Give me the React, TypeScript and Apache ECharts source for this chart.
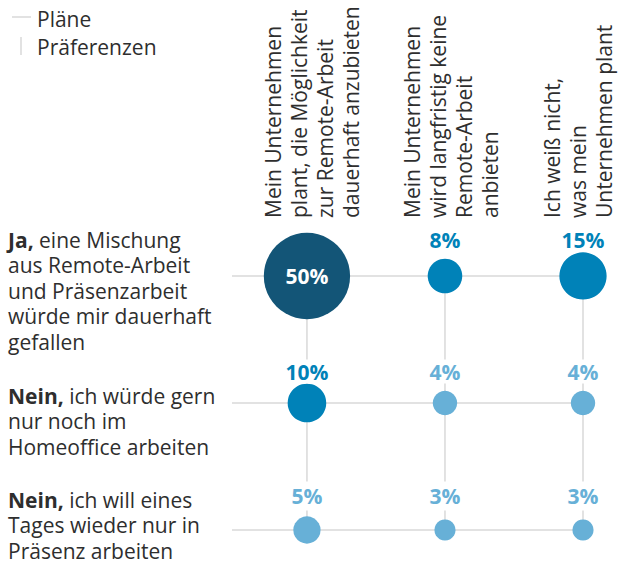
import React, { useEffect, useRef } from 'react';
import * as echarts from 'echarts';

// ---- data ----
const planLabels = [
  'Mein Unternehmen\nplant, die Möglichkeit\nzur Remote-Arbeit\ndauerhaft anzubieten',
  'Mein Unternehmen\nwird langfristig keine\nRemote-Arbeit\nanbieten',
  'Ich weiß nicht,\nwas mein\nUnternehmen plant',
];
const prefBold = ['Ja,', 'Nein,', 'Nein,'];
const prefRest = [
  ' eine Mischung\naus Remote-Arbeit\nund Präsenzarbeit\nwürde mir dauerhaft\ngefallen',
  ' ich würde gern\nnur noch im\nHomeoffice arbeiten',
  ' ich will eines\nTages wieder nur in\nPräsenz arbeiten',
];
const shares = [
  [50, 8, 15],
  [10, 4, 4],
  [5, 3, 3],
];
const legendNames = ['Pläne', 'Präferenzen'];

// ---- styles / layout ----
const FONT = '"Open Sans", "Noto Sans", sans-serif';
const TEXT = '#2e2e2e';
const LINE = '#d9d9d9';
const DARK = '#135577';
const MID = '#0082b8';
const LIGHT = '#67b0d7';
const headerLeft = [260, 399, 539];
const rowLabelTop = [227, 383, 487];
const labelLift = [36, 30, 30];
const labelPadTop = [0, 3, 8];

function colorFor(v: number) {
  if (v >= 30) return DARK;
  if (v >= 8) return MID;
  return LIGHT;
}

export default function App() {
  const ref = useRef<HTMLDivElement>(null);
  useEffect(() => {
    if (!ref.current) return;
    const chart = echarts.init(ref.current, undefined, { renderer: 'svg' });

    const data: any[] = [];
    shares.forEach((row, r) => {
      row.forEach((v, c) => {
        const inside = v >= 30;
        const pt = labelPadTop[r];
        data.push({
          value: [c, r, v],
          itemStyle: { color: colorFor(v), opacity: 1 },
          label: inside
            ? { position: 'inside', color: '#fff', offset: [0, 0] }
            : {
                position: 'inside',
                color: colorFor(v),
                backgroundColor: pt > 0 ? '#fff' : 'transparent',
                padding: [pt, 4, 0, 4],
                offset: [0, -labelLift[r] - pt / 2],
              },
        });
      });
    });

    const vLines = planLabels.map((_, c) => ({
      type: 'line',
      data: [
        [c, 0],
        [c, shares.length - 1],
      ],
      symbol: 'none',
      silent: true,
      lineStyle: { color: LINE, width: 1.5 },
      z: 1,
    }));

    const graphics: any[] = [
      { type: 'line', shape: { x1: 12, y1: 17, x2: 31, y2: 17 }, style: { stroke: LINE, lineWidth: 1.5 } },
      { type: 'line', shape: { x1: 21, y1: 37, x2: 21, y2: 55 }, style: { stroke: LINE, lineWidth: 1.5 } },
      {
        type: 'text', x: 37, y: 19,
        style: { text: legendNames[0], fontSize: 21, fontFamily: FONT, fill: TEXT, align: 'left', verticalAlign: 'middle', textAlign: 'left', textVerticalAlign: 'middle' },
      },
      {
        type: 'text', x: 37, y: 47,
        style: { text: legendNames[1], fontSize: 21, fontFamily: FONT, fill: TEXT, align: 'left', verticalAlign: 'middle', textAlign: 'left', textVerticalAlign: 'middle' },
      },
    ];
    planLabels.forEach((t, c) => {
      graphics.push({
        type: 'text',
        x: headerLeft[c],
        y: 218,
        rotation: Math.PI / 2,
        style: {
          text: t, fontSize: 21, fontFamily: FONT, fill: TEXT, lineHeight: 26,
          align: 'left', verticalAlign: 'top', textAlign: 'left', textVerticalAlign: 'top',
        },
      });
    });
    prefBold.forEach((b, r) => {
      graphics.push({
        type: 'text',
        x: 8,
        y: rowLabelTop[r],
        style: {
          text: '{b|' + b + '}' + prefRest[r],
          fontSize: 21, fontFamily: FONT, fill: TEXT, lineHeight: 25.5,
          align: 'left', verticalAlign: 'top', textAlign: 'left', textVerticalAlign: 'top',
          rich: {
            b: { fontSize: 21, fontFamily: FONT, fontWeight: 'bold', fill: TEXT, lineHeight: 25.5 },
          },
        },
      });
    });

    chart.setOption({
      animation: false,
      backgroundColor: '#fff',
      grid: { left: 232, right: 35, top: 276, bottom: 34 },
      xAxis: {
        type: 'value', min: -0.543, max: planLabels.length - 1,
        show: false, splitLine: { show: false },
      },
      yAxis: {
        type: 'value', inverse: true, min: 0, max: shares.length - 1, interval: 1,
        axisLine: { show: false }, axisTick: { show: false }, axisLabel: { show: false },
        splitLine: { show: true, lineStyle: { color: LINE, width: 1.5 } },
      },
      graphic: graphics,
      series: [
        ...vLines,
        {
          type: 'scatter',
          z: 2,
          data,
          itemStyle: { opacity: 1 },
          emphasis: { disabled: true },
          symbolSize: (val: number[]) => 12.2 * Math.sqrt(val[2]),
          label: {
            show: true,
            fontFamily: FONT,
            fontSize: 21,
            fontWeight: 'bold',
            formatter: (p: any) => p.value[2] + '%',
          },
        },
      ],
    });
    return () => chart.dispose();
  }, []);
  return <div ref={ref} style={{ position: 'fixed', left: 0, top: 0, width: 618, height: 564 }} />;
}
